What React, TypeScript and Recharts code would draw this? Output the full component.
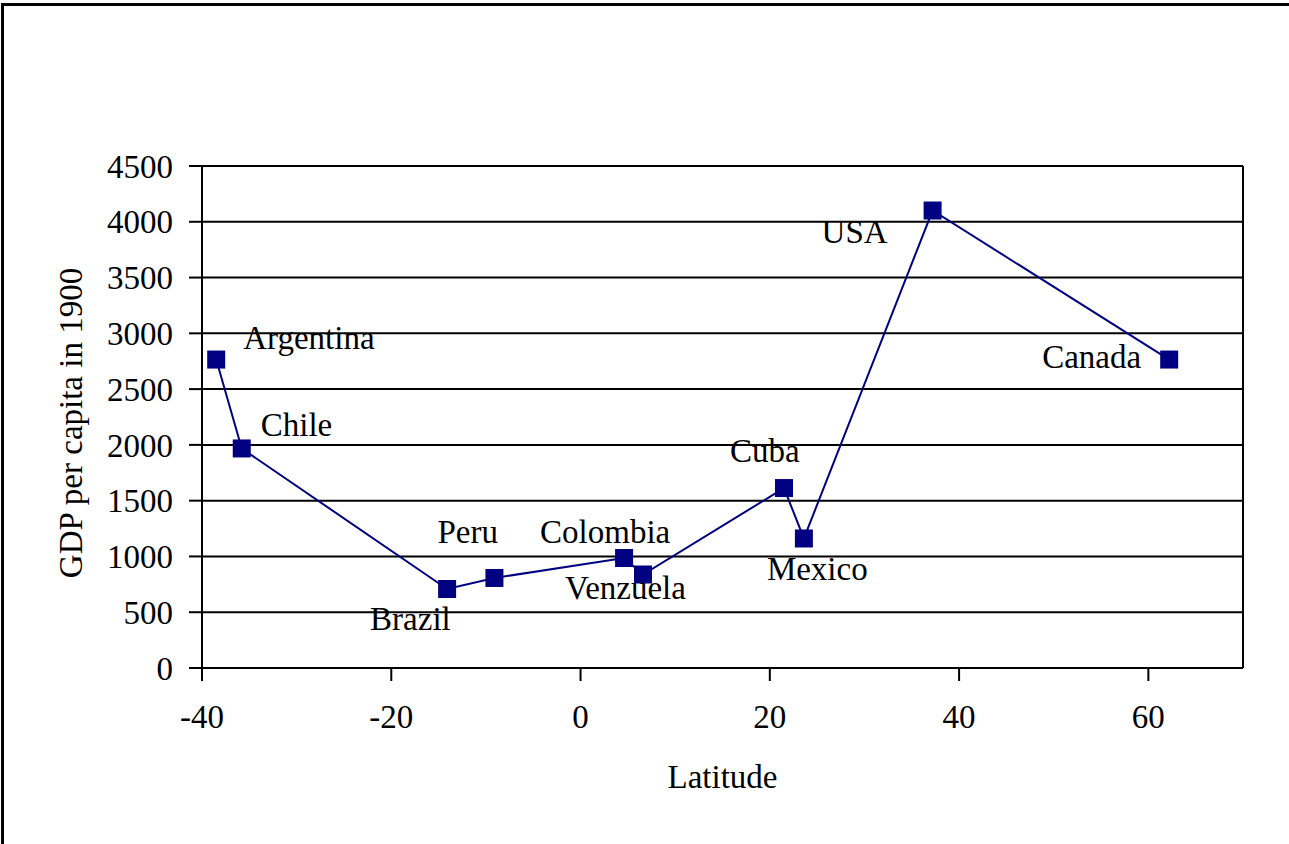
import React from 'react';
import {
  ScatterChart,
  Scatter,
  XAxis,
  YAxis,
  CartesianGrid,
  ReferenceLine,
} from 'recharts';

// GDP per capita in 1900 against latitude, countries of the Americas
const COUNTRIES = [
  'Argentina',
  'Chile',
  'Brazil',
  'Peru',
  'Colombia',
  'Venzuela',
  'Cuba',
  'Mexico',
  'USA',
  'Canada',
];
const LATITUDES = [-38.5, -35.8, -14.1, -9.1, 4.6, 6.6, 21.5, 23.6, 37.2, 62.2];
const GDP_1900 = [2765, 1968, 708, 807, 986, 838, 1613, 1161, 4101, 2765];

const X_TICKS = [-40, -20, 0, 20, 40, 60];
const Y_TICKS = [0, 500, 1000, 1500, 2000, 2500, 3000, 3500, 4000, 4500];

const FONT = '"Liberation Serif", "Times New Roman", serif';
const NAVY = '#000080';

// where each country name sits relative to its marker (text start, baseline)
const LABEL_OFFSETS: Record<string, [number, number]> = {
  Argentina: [27, -11],
  Chile: [19, -12],
  Brazil: [-77, 41],
  Peru: [-57, -35],
  Colombia: [-84, -15],
  Venzuela: [-78, 24],
  Cuba: [-54, -26],
  Mexico: [-37, 42],
  USA: [-111, 32],
  Canada: [-127, 8],
};

const points = COUNTRIES.map((name, i) => ({
  name,
  lat: LATITUDES[i],
  gdp: GDP_1900[i],
}));

const tickStyle = { fill: '#000', fontSize: 33, fontFamily: FONT };

const SquareMarker = (props: any) => {
  const { cx, cy } = props;
  const name: string = props.payload?.name ?? props.name;
  const [dx, dy] = LABEL_OFFSETS[name] ?? [10, -10];
  return (
    <g>
      <rect x={cx - 9} y={cy - 9} width={18} height={18} fill={NAVY} />
      <text
        x={cx + dx}
        y={cy + dy}
        fill="#000"
        fontSize={33}
        fontFamily={FONT}
        textAnchor="start"
      >
        {name}
      </text>
    </g>
  );
};

const YTitle = (props: any) => {
  const vb = props.viewBox;
  const x = vb.x - 20;
  const y = vb.y + vb.height / 2 + 6;
  return (
    <text
      x={x}
      y={y}
      transform={`rotate(-90 ${x} ${y})`}
      textAnchor="middle"
      fill="#000"
      fontSize={33}
      fontFamily={FONT}
    >
      GDP per capita in 1900
    </text>
  );
};

const XTitle = (props: any) => {
  const vb = props.viewBox;
  return (
    <text
      x={vb.x + vb.width / 2}
      y={vb.y + 120}
      textAnchor="middle"
      fill="#000"
      fontSize={33}
      fontFamily={FONT}
    >
      Latitude
    </text>
  );
};

export default function App() {
  return (
    <div
      style={{
        position: 'absolute',
        left: 0,
        top: 0,
        width: 1289,
        height: 844,
        background: '#fff',
        overflow: 'hidden',
      }}
    >
      {/* chart frame: only the top and left edges fall inside the view */}
      <div
        style={{
          position: 'absolute',
          left: 1,
          top: 3,
          width: 1400,
          height: 900,
          borderLeft: '3px solid #000',
          borderTop: '3px solid #000',
          boxSizing: 'border-box',
        }}
      />
      <ScatterChart
        width={1289}
        height={844}
        margin={{ top: 166, right: 46, bottom: 76, left: 102 }}
      >
        <CartesianGrid
          vertical={false}
          stroke="#000"
          strokeWidth={2}
          strokeDasharray=""
        />
        <XAxis
          type="number"
          dataKey="lat"
          domain={[-40, 70]}
          ticks={X_TICKS}
          height={100}
          axisLine={{ stroke: '#000', strokeWidth: 2 }}
          tickLine={{ stroke: '#000', strokeWidth: 2 }}
          tickSize={13}
          tickMargin={24}
          tick={tickStyle}
          interval={0}
          label={{ content: XTitle }}
        />
        <YAxis
          type="number"
          dataKey="gdp"
          domain={[0, 4500]}
          ticks={Y_TICKS}
          width={100}
          axisLine={{ stroke: '#000', strokeWidth: 2 }}
          tickLine={{ stroke: '#000', strokeWidth: 2 }}
          tickSize={13}
          tickMargin={16}
          tick={tickStyle}
          interval={0}
          label={{ content: YTitle }}
        />
        <ReferenceLine x={70} stroke="#000" strokeWidth={2} />
        <Scatter
          data={points}
          fill={NAVY}
          line={{ stroke: NAVY, strokeWidth: 2 }}
          lineType="joint"
          shape={SquareMarker}
          isAnimationActive={false}
        />
      </ScatterChart>
    </div>
  );
}
